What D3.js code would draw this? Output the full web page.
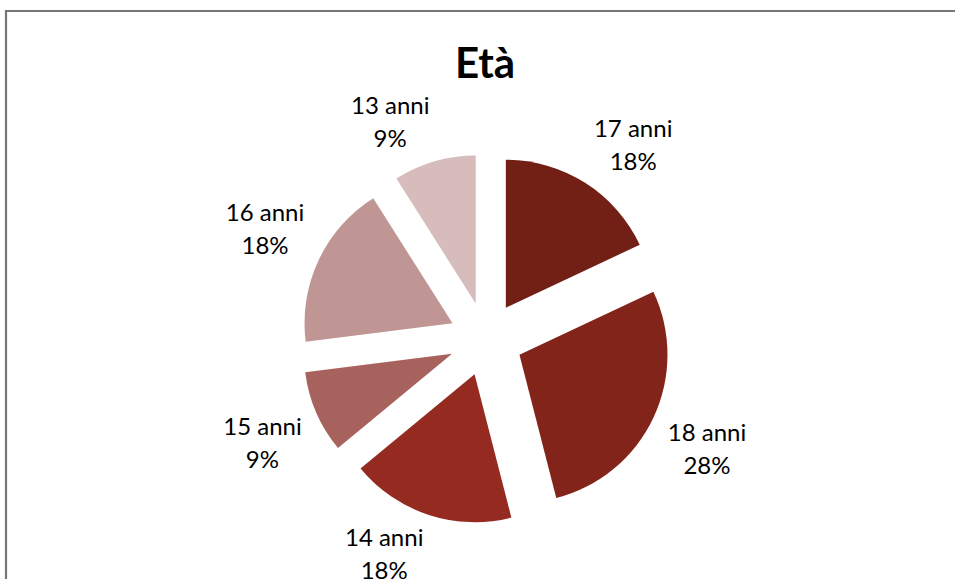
<!DOCTYPE html>
<html>
<head>
<meta charset="utf-8">
<script src="https://cdn.jsdelivr.net/npm/d3@7"></script>
<style>
  html, body { margin: 0; padding: 0; background: #fff; }
  svg { display: block; }
  text { font-family: Lato, "Open Sans", sans-serif; fill: #000; }
</style>
</head>
<body>
<svg id="chart" width="955" height="579"></svg>
<script>
// ---- data ----
const categories = ["17 anni", "18 anni", "14 anni", "15 anni", "16 anni", "13 anni"];
const values = [18, 28, 18, 9, 18, 9];
const percentLabels = ["18%", "28%", "18%", "9%", "18%", "9%"];
const colors = ["#721f16", "#83241a", "#942a20", "#a8625e", "#c09694", "#d7bcbc"];
const title = "Età";

// ---- layout ----
const W = 955, H = 579;
const cx = 486, cy = 339, r = 148;
const explode = 37;
const labelDist = 200;
const boxW = 80, boxH = 50;

const svg = d3.select("#chart");

// frame
svg.append("path")
  .attr("d", `M6,${H + 2} L6,11 L${W + 2},11`)
  .attr("fill", "none")
  .attr("stroke", "#767676")
  .attr("stroke-width", 2.2);

// title
svg.append("text")
  .attr("x", 485).attr("y", 78)
  .attr("text-anchor", "middle")
  .style("font-size", "42px")
  .style("font-weight", "bold")
  .text(title);

const data = categories.map((c, i) => ({ cat: c, value: values[i], pct: percentLabels[i], color: colors[i] }));

const pie = d3.pie().value(d => d.value).sort(null);
const arcs = pie(data);
const arc = d3.arc().innerRadius(0).outerRadius(r);

const g = svg.append("g").attr("transform", `translate(${cx},${cy})`);

g.selectAll("path.slice")
  .data(arcs)
  .join("path")
  .attr("class", "slice")
  .attr("fill", d => d.data.color)
  .attr("d", arc)
  .attr("transform", d => {
    const m = (d.startAngle + d.endAngle) / 2;
    return `translate(${explode * Math.sin(m)},${-explode * Math.cos(m)})`;
  });

// labels: nearest corner of label box sits just outside the exploded arc
const labels = g.selectAll("g.lbl")
  .data(arcs)
  .join("g")
  .attr("class", "lbl")
  .attr("transform", d => {
    const m = (d.startAngle + d.endAngle) / 2;
    const s = Math.sin(m), c = -Math.cos(m);
    const px = labelDist * s, py = labelDist * c;
    const x = px + Math.sign(s) * boxW / 2;
    const y = py + Math.sign(c) * boxH / 2;
    return `translate(${x},${y})`;
  });

labels.append("text")
  .attr("text-anchor", "middle")
  .attr("y", -8)
  .style("font-size", "24px")
  .text(d => d.data.cat);

labels.append("text")
  .attr("text-anchor", "middle")
  .attr("y", 25)
  .style("font-size", "24px")
  .text(d => d.data.pct);
</script>
</body>
</html>
